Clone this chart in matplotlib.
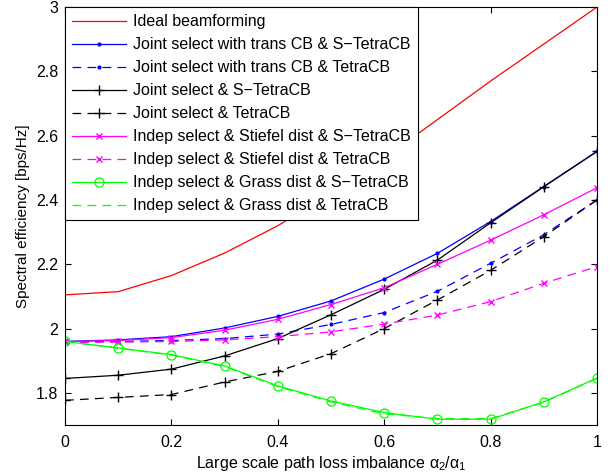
import numpy as np
import matplotlib
matplotlib.use("Agg")
import matplotlib.pyplot as plt

plt.rcParams["font.family"] = ["Liberation Sans", "DejaVu Sans"]
plt.rcParams["mathtext.fontset"] = "custom"
plt.rcParams["mathtext.rm"] = "Liberation Sans"
plt.rcParams["mathtext.it"] = "Liberation Sans"

# imbalance alpha_2/alpha_1
alpha_ratio = [0.0, 0.1, 0.2, 0.3, 0.4, 0.5, 0.6, 0.7, 0.8, 0.9, 1.0]

ideal = [2.105, 2.115, 2.165, 2.235, 2.32, 2.42, 2.53, 2.65, 2.77, 2.885, 3.0]
joint_trans_s = [1.96, 1.965, 1.975, 2.002, 2.038, 2.086, 2.154, 2.234, 2.333, 2.442, 2.551]
joint_trans_t = [1.96, 1.96, 1.963, 1.969, 1.983, 2.013, 2.05, 2.116, 2.203, 2.292, 2.40]
joint_s = [1.845, 1.855, 1.874, 1.915, 1.969, 2.043, 2.122, 2.213, 2.329, 2.441, 2.551]
joint_t = [1.777, 1.786, 1.795, 1.834, 1.867, 1.922, 2.0, 2.089, 2.181, 2.286, 2.40]
stiefel_s = [1.96, 1.963, 1.972, 1.995, 2.029, 2.075, 2.127, 2.2, 2.275, 2.354, 2.438]
stiefel_t = [1.957, 1.958, 1.96, 1.965, 1.975, 1.99, 2.014, 2.042, 2.084, 2.141, 2.193]
grass_s = [1.96, 1.94, 1.919, 1.884, 1.822, 1.775, 1.739, 1.718, 1.718, 1.772, 1.846]
grass_t = [1.96, 1.939, 1.918, 1.882, 1.82, 1.772, 1.735, 1.72, 1.72, 1.771, 1.845]

labels = [
    "Ideal beamforming",
    "Joint select with trans CB & S\u2212TetraCB",
    "Joint select with trans CB & TetraCB",
    "Joint select & S\u2212TetraCB",
    "Joint select & TetraCB",
    "Indep select & Stiefel dist & S\u2212TetraCB",
    "Indep select & Stiefel dist & TetraCB",
    "Indep select & Grass dist & S\u2212TetraCB",
    "Indep select & Grass dist & TetraCB",
]

lime = (0.0, 1.0, 0.0)
magenta = (1.0, 0.0, 1.0)
dash = (0, (7, 5))
lw = 0.9

fig = plt.figure(figsize=(6.16, 4.76), dpi=100)
ax = fig.add_axes([0.1055, 0.107, 0.8635, 0.878])

ax.plot(alpha_ratio, ideal, color="r", lw=lw, label=labels[0])
ax.plot(alpha_ratio, joint_trans_s, color="b", lw=lw, marker=".", ms=4, label=labels[1])
ax.plot(alpha_ratio, joint_trans_t, color="b", lw=lw, ls=dash, marker=".", ms=4, label=labels[2])
ax.plot(alpha_ratio, joint_s, color="k", lw=lw, marker="+", ms=7, mew=1.0, label=labels[3])
ax.plot(alpha_ratio, joint_t, color="k", lw=lw, ls=dash, marker="+", ms=7, mew=1.0, label=labels[4])
ax.plot(alpha_ratio, stiefel_s, color=magenta, lw=lw, marker="x", ms=5, mew=1.0, label=labels[5])
ax.plot(alpha_ratio, stiefel_t, color=magenta, lw=lw, ls=dash, marker="x", ms=5, mew=1.0, label=labels[6])
ax.plot(alpha_ratio, grass_s, color=lime, lw=lw, marker="o", ms=6.5, mfc="none", mew=0.9, label=labels[7])
ax.plot(alpha_ratio, grass_t, color=lime, lw=lw, ls=dash, label=labels[8])

ax.set_xlim(0, 1)
ax.set_ylim(1.7, 3.0)
ax.set_xticks([0, 0.2, 0.4, 0.6, 0.8, 1])
ax.set_xticklabels(["0", "0.2", "0.4", "0.6", "0.8", "1"])
ax.set_yticks([1.8, 2.0, 2.2, 2.4, 2.6, 2.8, 3.0])
ax.set_yticklabels(["1.8", "2", "2.2", "2.4", "2.6", "2.8", "3"])
ax.tick_params(direction="in", top=True, right=True, labelsize=11.5, length=4, width=0.8)
ax.tick_params(axis="x", pad=7)
ax.tick_params(axis="y", pad=5)
for s in ax.spines.values():
    s.set_linewidth(0.8)

ax.set_xlabel(r"Large scale path loss imbalance $\alpha_2/\alpha_1$", fontsize=11.5, labelpad=3)
ax.set_ylabel("Spectral efficiency [bps/Hz]", fontsize=11, labelpad=4)

leg = ax.legend(loc="upper left", fontsize=11.5, borderaxespad=0, handlelength=3.4,
                handletextpad=0.4, labelspacing=0.5, borderpad=0.45, fancybox=False,
                framealpha=1)
leg.get_frame().set_edgecolor("k")
leg.get_frame().set_linewidth(0.8)

fig.savefig("out.png", dpi=100)
